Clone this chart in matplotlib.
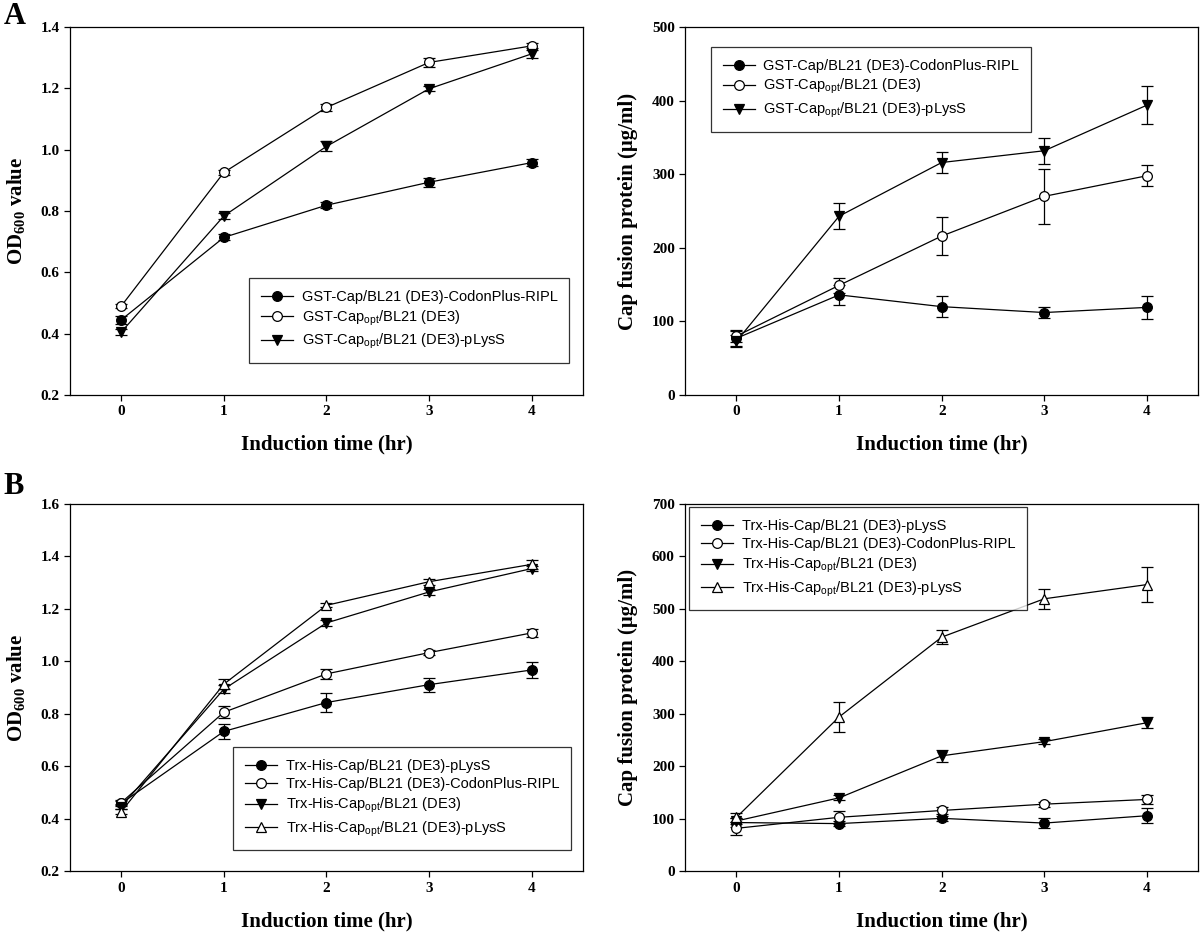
import matplotlib
matplotlib.use('Agg')
import matplotlib.pyplot as plt

hours = [0, 1, 2, 3, 4]

# panel A, OD600
a_od_labels = ['GST-Cap/BL21 (DE3)-CodonPlus-RIPL',
               r'GST-Cap$\mathregular{_{opt}}$/BL21 (DE3)',
               r'GST-Cap$\mathregular{_{opt}}$/BL21 (DE3)-pLysS']
a_od_ripl = [0.445, 0.714, 0.819, 0.894, 0.958]
a_od_ripl_err = [0.012, 0.010, 0.010, 0.015, 0.012]
a_od_opt = [0.490, 0.926, 1.138, 1.285, 1.339]
a_od_opt_err = [0.008, 0.008, 0.010, 0.016, 0.008]
a_od_plys = [0.405, 0.784, 1.011, 1.199, 1.313]
a_od_plys_err = [0.010, 0.010, 0.016, 0.008, 0.012]

# panel A, protein
a_pr_ripl = [77, 136, 120, 112, 119]
a_pr_ripl_err = [10, 14, 14, 8, 16]
a_pr_opt = [80, 149, 216, 270, 298]
a_pr_opt_err = [8, 10, 26, 37, 14]
a_pr_plys = [73, 243, 316, 332, 394]
a_pr_plys_err = [8, 18, 14, 18, 26]

# panel B, OD600
b_labels = ['Trx-His-Cap/BL21 (DE3)-pLysS',
            'Trx-His-Cap/BL21 (DE3)-CodonPlus-RIPL',
            r'Trx-His-Cap$\mathregular{_{opt}}$/BL21 (DE3)',
            r'Trx-His-Cap$\mathregular{_{opt}}$/BL21 (DE3)-pLysS']
b_od_plys = [0.459, 0.733, 0.843, 0.911, 0.967]
b_od_plys_err = [0.010, 0.028, 0.035, 0.027, 0.030]
b_od_ripl = [0.462, 0.806, 0.952, 1.033, 1.108]
b_od_ripl_err = [0.010, 0.022, 0.020, 0.010, 0.016]
b_od_opt = [0.447, 0.894, 1.146, 1.264, 1.353]
b_od_opt_err = [0.010, 0.015, 0.010, 0.012, 0.010]
b_od_optp = [0.428, 0.913, 1.213, 1.303, 1.369]
b_od_optp_err = [0.010, 0.020, 0.008, 0.012, 0.018]

# panel B, protein
b_pr_plys = [93, 91, 101, 92, 106]
b_pr_plys_err = [8, 5, 5, 10, 14]
b_pr_ripl = [82, 103, 116, 128, 137]
b_pr_ripl_err = [13, 12, 6, 5, 8]
b_pr_opt = [96, 140, 220, 247, 283]
b_pr_opt_err = [6, 5, 12, 5, 10]
b_pr_optp = [103, 294, 446, 519, 546]
b_pr_optp_err = [8, 29, 13, 19, 33]

styles = [dict(marker='o', mfc='black'),
          dict(marker='o', mfc='white'),
          dict(marker='v', mfc='black'),
          dict(marker='^', mfc='white')]

SERIF = 'Liberation Serif'
SANS = 'Liberation Sans'


def draw(ax, series, labels, ylim, yticks, ylabel, leg_loc, leg_anchor):
    for i, (y, err) in enumerate(series):
        st = styles[i]
        ax.errorbar(hours, y, yerr=err, color='black', lw=0.9,
                    marker=st['marker'], mfc=st['mfc'], mec='black',
                    ms=7, mew=0.9, capsize=4, elinewidth=0.9,
                    label=labels[i])
    ax.set_xlim(-0.5, 4.5)
    ax.set_ylim(*ylim)
    ax.set_xticks(hours)
    ax.set_yticks(yticks)
    for sp in ax.spines.values():
        sp.set_linewidth(0.9)
    ax.tick_params(direction='out', length=4, width=0.9, top=False, right=False)
    for lab in ax.get_xticklabels() + ax.get_yticklabels():
        lab.set_fontfamily(SERIF)
        lab.set_fontweight('bold')
        lab.set_fontsize(11)
    ax.set_xlabel('Induction time (hr)', family=SERIF, weight='bold',
                  fontsize=15, labelpad=12)
    ax.set_ylabel(ylabel, family=SERIF, weight='bold', fontsize=15, labelpad=10)
    # legend shows line + marker without error bars
    handles, labs = ax.get_legend_handles_labels()
    handles = [h[0] for h in handles]
    leg = ax.legend(handles, labs, loc=leg_loc, bbox_to_anchor=leg_anchor,
                    prop={'family': SANS, 'size': 10.5}, frameon=True,
                    fancybox=False, edgecolor='black', handlelength=2.2,
                    borderpad=0.8, labelspacing=0.3, handletextpad=0.6,
                    borderaxespad=0)
    leg.get_frame().set_linewidth(0.9)


fig = plt.figure(figsize=(12, 9.38), dpi=100)
ax1 = fig.add_axes([0.0583, 0.579, 0.4275, 0.392])
ax2 = fig.add_axes([0.571, 0.579, 0.4275, 0.392])
ax3 = fig.add_axes([0.0583, 0.071, 0.4275, 0.392])
ax4 = fig.add_axes([0.571, 0.071, 0.4275, 0.392])

od_label = r'OD$\mathregular{_{600}}$ value'
pr_label = 'Cap fusion protein (\u03bcg/ml)'

draw(ax1, [(a_od_ripl, a_od_ripl_err), (a_od_opt, a_od_opt_err), (a_od_plys, a_od_plys_err)],
     a_od_labels, (0.2, 1.4), [0.2, 0.4, 0.6, 0.8, 1.0, 1.2, 1.4], od_label,
     'lower right', (0.973, 0.087))
draw(ax2, [(a_pr_ripl, a_pr_ripl_err), (a_pr_opt, a_pr_opt_err), (a_pr_plys, a_pr_plys_err)],
     a_od_labels, (0, 500), [0, 100, 200, 300, 400, 500], pr_label,
     'upper left', (0.05, 0.946))
draw(ax3, [(b_od_plys, b_od_plys_err), (b_od_ripl, b_od_ripl_err),
           (b_od_opt, b_od_opt_err), (b_od_optp, b_od_optp_err)],
     b_labels, (0.2, 1.6), [0.2, 0.4, 0.6, 0.8, 1.0, 1.2, 1.4, 1.6], od_label,
     'lower right', (0.977, 0.057))
draw(ax4, [(b_pr_plys, b_pr_plys_err), (b_pr_ripl, b_pr_ripl_err),
           (b_pr_opt, b_pr_opt_err), (b_pr_optp, b_pr_optp_err)],
     b_labels, (0, 700), [0, 100, 200, 300, 400, 500, 600, 700], pr_label,
     'upper left', (0.008, 0.99))

fig.text(0.003, 0.998, 'A', family=SERIF, weight='bold', fontsize=22, va='top')
fig.text(0.003, 0.497, 'B', family=SERIF, weight='bold', fontsize=22, va='top')

fig.savefig('out.png', dpi=100)
